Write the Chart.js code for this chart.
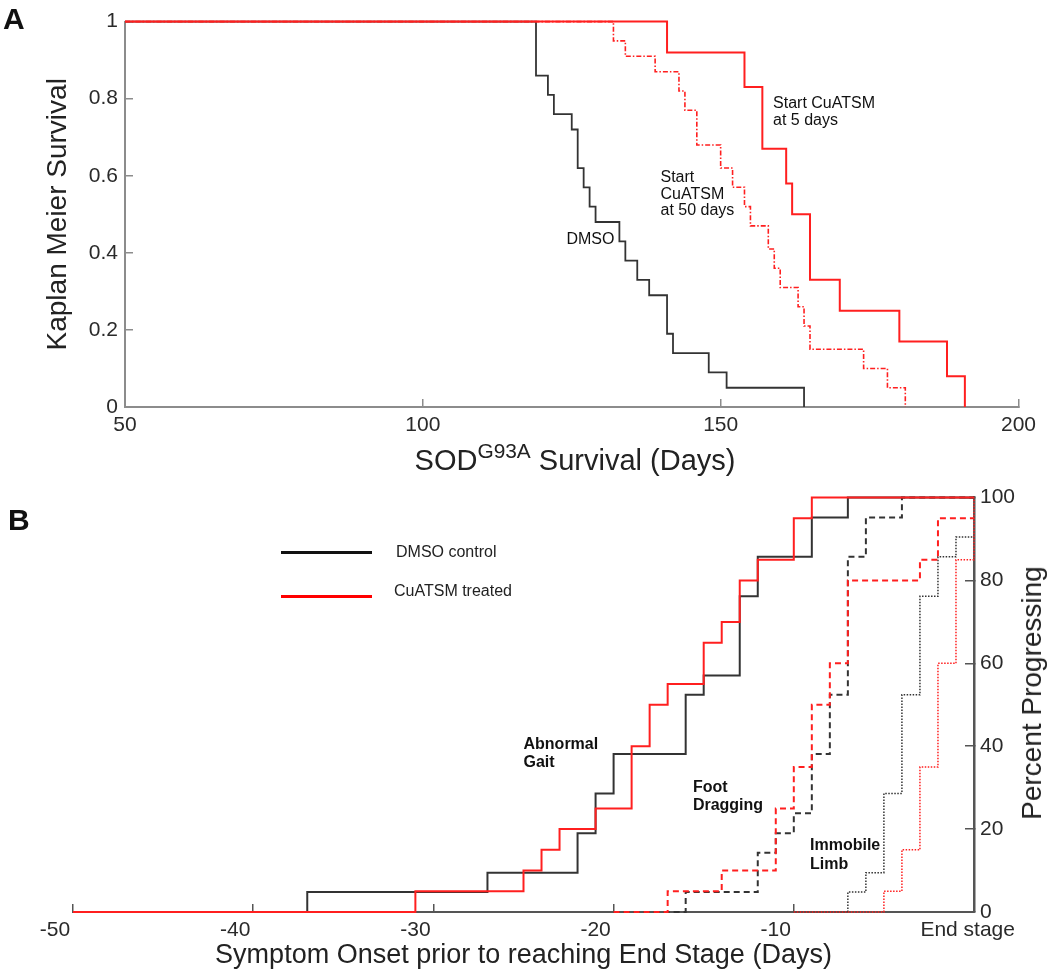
<!DOCTYPE html>
<html lang="en">
<head>
<meta charset="UTF-8">
<title>CuATSM survival and symptom progression</title>
<script src="https://cdn.jsdelivr.net/npm/chart.js"></script>
<style>
  body { margin: 0; background: #fff; font-family: 'Liberation Sans', Arial, sans-serif; color: #222; }
  #page { position: relative; width: 1050px; height: 972px; overflow: hidden; }
  canvas { position: absolute; left: 0; }
  #chartA { top: -6px; }
  #chartB { top: 470px; }
  .txt { position: absolute; white-space: nowrap; line-height: 1; }
  .panel { font-weight: bold; font-size: 30px; color: #111; }
  .legline { position: absolute; height: 3px; }
  .leg { font-size: 16px; color: #222; }
</style>
</head>
<body>
<div id="page">
  <canvas id="chartA" width="1050" height="486"></canvas>
  <canvas id="chartB" width="1050" height="502"></canvas>

  <div class="txt panel" style="left:3px; top:4px;">A</div>
  <div class="txt panel" style="left:8px; top:505px;">B</div>

  <div class="txt" style="left:575px; top:446px; font-size:29px; transform:translateX(-50%);">SOD<sup style="font-size:0.72em; vertical-align:12px; line-height:0;">G93A</sup> Survival (Days)</div>
  <div class="txt" style="left:1032px; top:693px; font-size:28px; transform:translate(-50%,-50%) rotate(-90deg);">Percent Progressing</div>

  <!-- legend of panel B -->
  <div class="legline" style="left:281px; top:551px; width:91px; background:#111;"></div>
  <div class="txt leg" style="left:396px; top:544px;">DMSO control</div>
  <div class="legline" style="left:281px; top:595px; width:91px; background:#f00;"></div>
  <div class="txt leg" style="left:394px; top:583px;">CuATSM treated</div>
</div>

<script>
Chart.defaults.font.family = "'Liberation Sans', Arial, sans-serif";
Chart.defaults.color = '#2a2a2a';

// ---- Panel A: Kaplan Meier survival ----
const dmsoDays = [50, 119, 121, 122, 125, 126, 127, 128, 129, 133, 134, 136, 138, 141, 142, 148, 151, 164];
const dmsoSurv = [1, 0.86, 0.81, 0.76, 0.72, 0.62, 0.57, 0.52, 0.48, 0.43, 0.38, 0.33, 0.29, 0.19, 0.14, 0.09, 0.05, 0];

const cu5Days = [50, 141, 154, 157, 161, 162, 165, 170, 180, 188, 191];
const cu5Surv = [1, 0.92, 0.83, 0.67, 0.58, 0.50, 0.33, 0.25, 0.17, 0.08, 0];

const cu50Days = [50, 132, 134, 139, 143, 144, 146, 150, 152, 154, 155, 158, 159, 160, 163, 164, 165, 174, 178, 181];
const cu50Surv = [1, 0.95, 0.91, 0.87, 0.82, 0.77, 0.68, 0.62, 0.57, 0.52, 0.47, 0.41, 0.36, 0.31, 0.26, 0.21, 0.15, 0.10, 0.05, 0];

const survivalTicks = [50, 100, 150, 200];

// ---- Panel B: symptom onset before end stage (percent progressing) ----
const gaitDmsoDays = [-50, -37, -27, -22, -21, -20, -16, -15, -13, -12, -9, -7, 0];
const gaitDmsoPct  = [0, 4.8, 9.5, 19, 28.6, 38.1, 52.4, 57.1, 76.2, 85.7, 95.2, 100, 100];
const gaitCuDays   = [-50, -31, -25, -24, -23, -21, -19, -18, -17, -15, -14, -13, -12, -10, -9, 0];
const gaitCuPct    = [0, 5, 10, 15, 20, 25, 40, 50, 55, 65, 70, 80, 85, 95, 100, 100];

const footDmsoDays = [-20, -16, -12, -11, -10, -9, -8, -7, -6, -4, 0];
const footDmsoPct  = [0, 4.8, 14.3, 19, 23.8, 38.1, 52.4, 85.7, 95.2, 100, 100];
const footCuDays   = [-20, -17, -14, -11, -10, -9, -8, -7, -3, -2, 0];
const footCuPct    = [0, 5, 10, 25, 35, 50, 60, 80, 85, 95, 95];

const limbDmsoDays = [-10, -7, -6, -5, -4, -3, -2, -1, 0];
const limbDmsoPct  = [0, 4.8, 9.5, 28.6, 52.4, 76.2, 85.7, 90.5, 90.5];
const limbCuDays   = [-10, -5, -4, -3, -2, -1, 0];
const limbCuPct    = [0, 5, 15, 35, 60, 85, 100];

const RED = '#ff1f1f';
const BLACK = '#333';

function toPoints(xs, ys) {
  return xs.map((x, i) => ({ x: x, y: ys[i] }));
}

function stepLine(label, xs, ys, color, width, dash) {
  return {
    label: label,
    data: toPoints(xs, ys),
    borderColor: color,
    borderWidth: width,
    borderDash: dash || [],
    stepped: true,
    pointRadius: 0,
    fill: false,
    clip: 6,
    borderJoinStyle: 'miter',
    borderCapStyle: 'butt'
  };
}

// small text labels placed in data coordinates
const textLabels = {
  id: 'textLabels',
  afterDatasetsDraw(chart, args, opts) {
    const { ctx, scales } = chart;
    const xs = scales.x;
    const ys = scales.y;
    ctx.save();
    ctx.fillStyle = '#111';
    ctx.textAlign = 'left';
    ctx.textBaseline = 'middle';
    (opts.items || []).forEach(item => {
      ctx.font = item.font;
      const px = xs.getPixelForValue(item.x);
      const py = ys.getPixelForValue(item.y);
      item.lines.forEach((line, i) => ctx.fillText(line, px, py + i * item.lh));
    });
    ctx.restore();
  }
};

const plainFont = "16px 'Liberation Sans', Arial, sans-serif";
const boldFont = "bold 16px 'Liberation Sans', Arial, sans-serif";

// Panel A chart
new Chart(document.getElementById('chartA'), {
  type: 'line',
  data: {
    datasets: [
      stepLine('Start CuATSM at 5 days', cu5Days, cu5Surv, RED, 2),
      stepLine('Start CuATSM at 50 days', cu50Days, cu50Surv, RED, 1.6, [5, 2, 1.5, 2]),
      stepLine('DMSO', dmsoDays, dmsoSurv, BLACK, 1.8)
    ]
  },
  options: {
    responsive: false,
    animation: false,
    layout: { padding: { top: 14, right: 24, left: 0, bottom: 0 } },
    plugins: {
      legend: { display: false },
      tooltip: { enabled: false },
      textLabels: {
        items: [
          { lines: ['DMSO'], x: 124.1, y: 0.434, lh: 16.5, font: plainFont },
          { lines: ['Start CuATSM', 'at 5 days'], x: 158.8, y: 0.786, lh: 16.6, font: plainFont },
          { lines: ['Start', 'CuATSM', 'at 50 days'], x: 139.9, y: 0.595, lh: 16.5, font: plainFont }
        ]
      }
    },
    scales: {
      x: {
        type: 'linear',
        min: 50,
        max: 200,
        afterBuildTicks: s => { s.ticks = survivalTicks.map(v => ({ value: v })); },
        afterFit: s => { s.height = 73; },
        grid: { drawOnChartArea: false, tickLength: -8, color: '#8c8c8c', lineWidth: 1.5 },
        border: { color: '#8c8c8c', width: 2 },
        ticks: { padding: 14, font: { size: 21 }, maxRotation: 0, autoSkip: false }
      },
      y: {
        min: 0,
        max: 1,
        afterFit: s => { s.width = 125; },
        grid: { drawOnChartArea: false, tickLength: -8, color: '#8c8c8c', lineWidth: 1.5 },
        border: { color: '#8c8c8c', width: 2 },
        ticks: {
          stepSize: 0.2,
          padding: 15,
          font: { size: 21 },
          callback: v => String(Number(v.toFixed(1)))
        },
        title: {
          display: true,
          text: 'Kaplan Meier Survival',
          color: '#222',
          font: { size: 28 },
          padding: { top: 41, bottom: 0 }
        }
      }
    }
  },
  plugins: [textLabels]
});

// Panel B chart
new Chart(document.getElementById('chartB'), {
  type: 'line',
  data: {
    datasets: [
      stepLine('Abnormal Gait CuATSM', gaitCuDays, gaitCuPct, RED, 2),
      stepLine('Foot Dragging CuATSM', footCuDays, footCuPct, RED, 2, [6, 4]),
      stepLine('Immobile Limb CuATSM', limbCuDays, limbCuPct, RED, 1.5, [1.5, 1.5]),
      stepLine('Abnormal Gait DMSO', gaitDmsoDays, gaitDmsoPct, BLACK, 2),
      stepLine('Foot Dragging DMSO', footDmsoDays, footDmsoPct, BLACK, 2, [6, 4]),
      stepLine('Immobile Limb DMSO', limbDmsoDays, limbDmsoPct, BLACK, 1.5, [1.5, 1.5])
    ]
  },
  options: {
    responsive: false,
    animation: false,
    layout: { padding: { top: 25, right: 0, left: 73, bottom: 0 } },
    plugins: {
      legend: { display: false },
      tooltip: { enabled: false },
      textLabels: {
        items: [
          { lines: ['Abnormal', 'Gait'], x: -25, y: 40.4, lh: 18.4, font: boldFont },
          { lines: ['Foot', 'Dragging'], x: -15.6, y: 30.0, lh: 18.4, font: boldFont },
          { lines: ['Immobile', 'Limb'], x: -9.1, y: 16.0, lh: 18.4, font: boldFont }
        ]
      }
    },
    scales: {
      x: {
        type: 'linear',
        min: -50,
        max: 0,
        afterFit: s => { s.height = 60; },
        grid: { drawOnChartArea: false, tickLength: -8, color: '#555', lineWidth: 1.5 },
        border: { color: '#555', width: 2 },
        ticks: {
          stepSize: 10,
          padding: 14,
          labelOffset: -18,
          font: { size: 21 },
          maxRotation: 0,
          autoSkip: false,
          callback: v => (v === 0 ? '    End stage' : String(v))
        },
        title: {
          display: true,
          text: 'Symptom Onset prior to reaching End Stage (Days)',
          color: '#222',
          font: { size: 27 },
          padding: { top: 0, bottom: 0 }
        }
      },
      y: {
        position: 'right',
        min: 0,
        max: 100,
        afterFit: s => { s.width = 76; },
        grid: { drawOnChartArea: false, tickLength: -9, color: '#555', lineWidth: 1.5 },
        border: { color: '#555', width: 2.5 },
        ticks: { stepSize: 20, padding: 15, font: { size: 21 } }
      }
    }
  },
  plugins: [textLabels]
});
</script>
</body>
</html>
